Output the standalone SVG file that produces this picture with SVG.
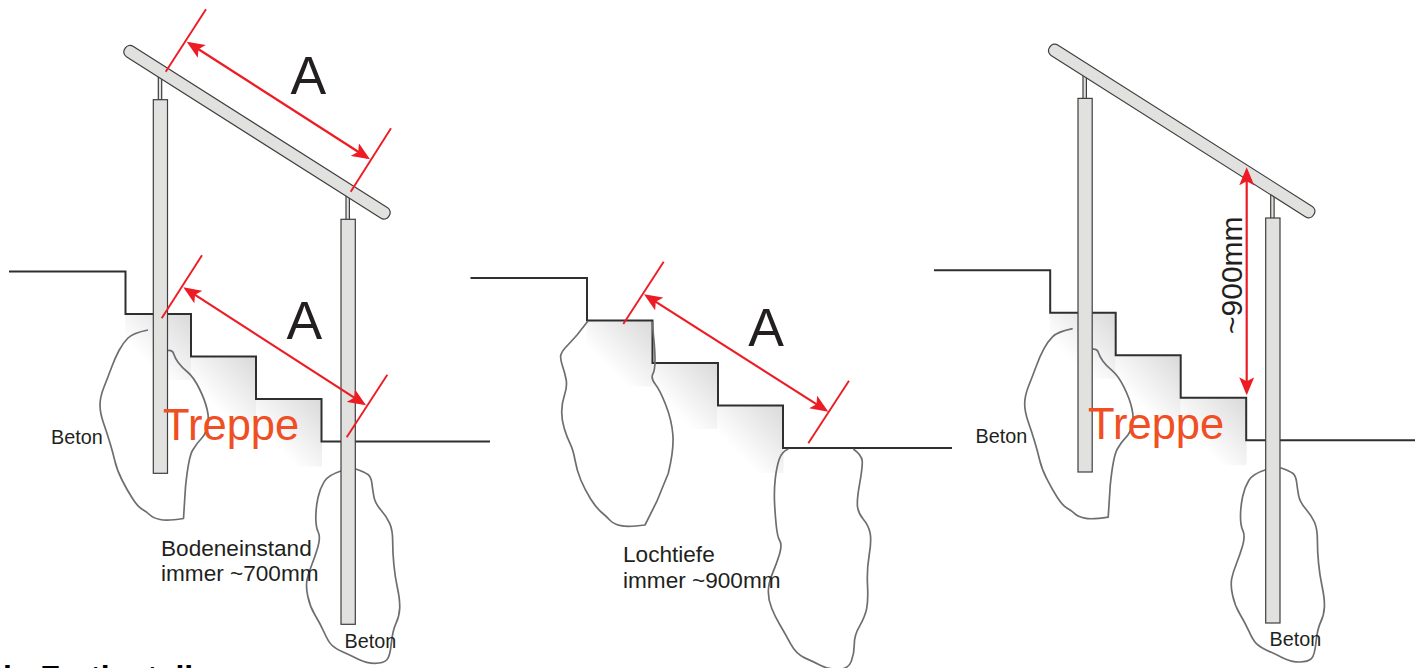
<svg xmlns="http://www.w3.org/2000/svg" width="1421" height="668" viewBox="0 0 1421 668">
<style>
text{font-family:"Liberation Sans",Arial,sans-serif;fill:#231f20}
.big{font-size:53.5px}
.tr{font-size:43.5px;fill:#f04e23}
.sm{font-size:19.8px}
.lbl{font-size:22.6px}
.stair{fill:none;stroke:#2f2f2f;stroke-width:2}
.cloud{fill:none;stroke:#6d6e71;stroke-width:1.7;stroke-linejoin:round}
.part{fill:#e1e1df;stroke:#3f3f3f;stroke-width:1.2}
.tick{stroke:#ed1c24;stroke-width:1.9;fill:none}
.dim{stroke:#ed1c24;stroke-width:2.2;fill:none;marker-start:url(#ah);marker-end:url(#ah)}
</style>
<defs>
<linearGradient id="sh" x1="0" y1="1" x2="1" y2="0">
<stop offset="0.3" stop-color="#fff"/><stop offset="1" stop-color="#d9d9d9"/>
</linearGradient>
<marker id="ah" markerUnits="userSpaceOnUse" viewBox="0 0 18 15" refX="15" refY="7.5" markerWidth="18" markerHeight="15" orient="auto-start-reverse">
<path d="M18,7.5 L0,0 L4,7.5 L0,15 Z" fill="#ed1c24"/>
</marker>
<g id="shade">
<rect x="125" y="314" width="66" height="66" fill="url(#sh)"/>
<rect x="191" y="356.5" width="65" height="66" fill="url(#sh)"/>
<rect x="256" y="399" width="66" height="67.5" fill="url(#sh)"/>
</g>
<path id="cloudA" class="cloud" d="M148,330 Q133,333 128,338 Q123,343 119,350.5 Q115,358 111.5,367.5 Q108,377 104,387 Q100,397 100,405 Q100,413 103.5,423 Q107,433 110,443 Q113,453 115,461.5 Q117,470 122,480 Q127,490 132.5,498.5 Q138,507 142.5,509.5 Q147,512 150,515 Q153,518 160,519.5 Q167,521 183.5,518.5 L185.5,487 Q188.5,457 192.75,450 Q197,443 201,439 Q205,435 207.25,427.5 Q209.5,420 207.25,410 Q205,400 199.25,388.5 Q193.5,377 187.5,372 Q181.5,367 178.25,362.5 Q175,358 173.75,354 Q172.5,350 168,350.5"/>
<path id="cloudB" class="cloud" d="M341,471 Q328.3,475 324.2,481.6 Q320,488.3 318,497.5 Q316,506.7 315.8,516.7 Q315.7,526.7 318.2,532 Q320.7,537.3 317.9,547 Q315,556.7 311.7,565 Q308.3,573.3 307,580 Q305.7,586.7 307.9,596.7 Q310,606.7 315,615 Q320,623.3 324.2,632.5 Q328.3,641.7 331.7,645 Q335,648.3 342.5,651.7 Q350,655 358.3,659.2 Q366.7,663.3 375,663.3 Q383.3,663.3 386.7,660 Q390,656.7 391.3,643.3 Q392.7,630 396,623.3 Q399.3,616.7 399.7,608.3 Q400,600 397.5,588.3 Q395,576.7 393.9,565 Q392.7,553.3 392.7,541.7 Q392.7,530 389.7,523.3 Q386.7,516.7 380.9,510 Q375,503.3 373.9,496.7 Q372.7,490 371.9,483.3 Q371,476.7 368,474.5 Q365,472.3 355.7,469"/>
<g id="railing">
<rect class="part" x="158.3" y="74" width="3.4" height="26"/>
<rect class="part" x="346" y="194" width="3.4" height="26"/>
<rect class="part" x="153.3" y="99.7" width="14.2" height="373.6"/>
<rect class="part" x="341" y="219.3" width="14.3" height="405"/>
<rect class="part" x="-156.3" y="-6.2" width="312.6" height="12.4" rx="5.5" transform="translate(257,132.25) rotate(32.4)"/>
</g>
</defs>

<g id="stairs-left">
<use href="#shade"/>
<polyline class="stair" points="9,271.5 125.5,271.5 125.5,314 191,314 191,356.5 256,356.5 256,399 321.5,399 321.5,441.5 490,441.5"/>
</g>
<g id="stairs-middle">
<use href="#shade" x="461.5" y="6.5"/>
<polyline class="stair" points="470.5,278 587,278 587,320.5 652.5,320.5 652.5,363 718,363 718,405.5 783,405.5 783,448 952,448"/>
</g>
<g id="stairs-right">
<use href="#shade" x="924.7" y="-1.3"/>
<polyline class="stair" points="934,270.2 1050.2,270.2 1050.2,312.7 1115.7,312.7 1115.7,355.2 1180.7,355.2 1180.7,397.7 1246.2,397.7 1246.2,440.2 1415,440.2"/>
</g>

<g id="concrete-left-1"><use href="#cloudA"/></g>
<g id="concrete-left-2"><use href="#cloudB"/></g>
<g id="concrete-middle-1">
<path class="cloud" d="M588,321 L577,335 Q568,345 565,348 Q561.7,351.7 560.8,355 Q560,358.3 562.5,366 Q565,373.3 566.2,380 Q567.3,386.7 564.5,395 Q561.7,403.3 561.7,411.7 Q561.7,420 564.2,428.3 Q566.7,436.7 570,443.3 Q573.3,450 575,460 Q576.7,470 580.8,480 Q585,490 590.8,499.2 Q596.7,508.3 601.7,512.5 Q606.7,516.7 610,520.3 Q613.3,524 620.8,525.7 Q628.3,527.3 645,525 L656.7,501.7 L668.3,473.3 Q674,450 672.9,435 Q671.7,420 665.8,405 Q660,390 655.3,384.2 Q650.7,378.3 652.8,374.2 Q655,370 655,360 Q655,350 653.5,336 L652.3,321.7"/>
</g>
<g id="concrete-middle-2">
<path class="cloud" d="M788.3,449 Q781.7,451.7 779.2,459.2 Q776.7,466.7 775.3,478.3 Q774,490 774.5,501.7 Q775,513.3 776.2,525 Q777.3,536.7 779.8,540.8 Q782.3,545 779.5,554.2 Q776.7,563.3 772.5,573.3 Q768.3,583.3 768.3,591.7 Q768.3,600 771.7,608.3 Q775,616.7 780,625 Q785,633.3 790.5,643.7 Q796,654 804.7,657.9 Q813.3,661.7 820.8,665.5 Q828.3,669.3 838.3,669.3 Q848.3,669.3 851.3,661.3 Q854.3,653.3 854.3,644.2 Q854.3,635 859.7,625.9 Q865,616.7 866.7,608.4 Q868.3,600 867.5,585 Q866.7,570 869.2,555 Q871.7,540 870,532.5 Q868.3,525 863.3,519.2 Q858.3,513.3 857.5,506.7 Q856.7,500 859.7,483.4 Q862.7,466.7 862.2,460.9 Q861.7,455 853.3,449"/>
</g>
<g id="concrete-right-1"><use href="#cloudA" x="924.7" y="-1.3"/></g>
<g id="concrete-right-2"><use href="#cloudB" x="924.7" y="-1.3"/></g>

<g id="railing-left"><use href="#railing"/></g>
<g id="railing-right"><use href="#railing" x="924.7" y="-1.3"/></g>

<g id="connectors">
<line class="tick" x1="165.7" y1="71.7" x2="206" y2="9.3"/>
<line class="tick" x1="350.7" y1="191.7" x2="391" y2="128.3"/>
<line class="dim" x1="189.2" y1="43.3" x2="367.5" y2="157.7"/>
<line class="tick" x1="161.7" y1="318.3" x2="202" y2="255.3"/>
<line class="tick" x1="346.7" y1="437.3" x2="387.3" y2="374.7"/>
<line class="dim" x1="185.8" y1="288.9" x2="363.5" y2="403.7"/>
<line class="tick" x1="623.3" y1="324" x2="663.7" y2="261.7"/>
<line class="tick" x1="808.3" y1="443.3" x2="849" y2="380.7"/>
<line class="dim" x1="646.5" y1="295.9" x2="825.8" y2="410.1"/>
<line class="dim" x1="1246.7" y1="170.3" x2="1246.7" y2="392.3"/>
</g>

<g id="labels">
<text class="big" x="290.5" y="93.5">A</text>
<text class="big" x="286.5" y="339.3">A</text>
<text class="big" x="748.3" y="346">A</text>
<text class="tr" x="163" y="440">Treppe</text>
<text class="tr" x="1088" y="438.5">Treppe</text>
<text class="sm" x="51" y="444">Beton</text>
<text class="sm" x="344.5" y="647.7">Beton</text>
<text class="sm" x="975.5" y="442.7">Beton</text>
<text class="sm" x="1269.5" y="645.7">Beton</text>
<text class="lbl" x="161" y="555.7">Bodeneinstand</text>
<text class="lbl" x="161" y="581">immer ~700mm</text>
<text class="lbl" x="623" y="561.7">Lochtiefe</text>
<text class="lbl" x="623" y="587.7">immer ~900mm</text>
<text font-size="30" transform="translate(1241.5,334) rotate(-90)">~900mm</text>
<text x="3" y="688" font-size="32" font-weight="700" style="fill:#000">b. Fertigstellung</text>
</g>
</svg>
